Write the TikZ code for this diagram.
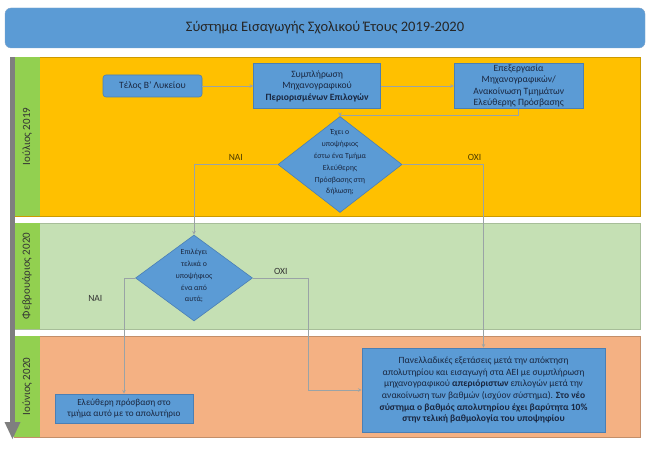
\documentclass[tikz,border=0pt]{standalone}
\usepackage{fontspec}
\setmainfont{Carlito}
\usepackage{tikz}
\usetikzlibrary{positioning, shapes.geometric}

\definecolor{boxblue}{HTML}{5B9BD5}
\definecolor{boxline}{HTML}{4A7FB5}
\definecolor{boxtext}{HTML}{1A2740}
\definecolor{laneyellow}{HTML}{FFC000}
\definecolor{lanegreen}{HTML}{C5E0B4}
\definecolor{laneorange}{HTML}{F4B183}
\definecolor{stripgreen}{HTML}{92D050}
\definecolor{timegray}{HTML}{7F7F7F}
\definecolor{linegray}{HTML}{9AA3A6}
\definecolor{answertext}{HTML}{4D3B00}

\begin{document}
\begin{tikzpicture}[x=1pt, y=-1pt, >=stealth,
  main box/.style={draw=boxline, line width=0.6pt, fill=boxblue, text=boxtext,
    align=center, inner sep=1pt, font=\fontsize{9.6}{11.5}\selectfont},
  decision/.style={diamond, draw=boxline, line width=0.6pt, fill=boxblue,
    text=boxtext, inner sep=0pt, font=\fontsize{7.8}{11.8}\selectfont},
  flow/.style={->, draw=linegray, line width=0.7pt},
  answer/.style={font=\fontsize{9.5}{11}\selectfont, text=answertext},
  lane name/.style={rotate=90, font=\fontsize{11}{13}\selectfont, text=black!80}]

\fill[white] (0,0) rectangle (660,462);
\useasboundingbox (0,0) rectangle (660,462);

% title
\node[draw=boxline!70, fill=boxblue, rounded corners=6pt, minimum width=640pt,
  minimum height=40pt, font=\fontsize{14.5}{17}\selectfont, text=black!85] (title)
  at (325,28) {Σύστημα Εισαγωγής Σχολικού Έτους 2019-2020};

% lanes
\filldraw[fill=laneyellow, draw=laneyellow!80!black, line width=0.6pt] (14,57) rectangle (640,216);
\filldraw[fill=lanegreen, draw=lanegreen!85!black, line width=0.6pt] (14,223) rectangle (640,329);
\filldraw[fill=laneorange, draw=laneorange!80!black, line width=0.6pt] (14,336) rectangle (640,437);
\fill[stripgreen] (14,57) rectangle (40,216);
\fill[stripgreen] (14,223) rectangle (40,329);
\fill[stripgreen] (14,336) rectangle (40,437);

% time arrow
\fill[timegray] (10,57) rectangle (15,423);
\fill[timegray] (4.5,422) -- (20.5,422) -- (12.5,439) -- cycle;

\node[lane name] (jul19) at (27,136.5) {Ιούλιος 2019};
\node[lane name] (feb20) at (27,276) {Φεβρουάριος 2020};
\node[lane name] (jun20) at (27,386.5) {Ιούνιος 2020};

% steps
\node[main box, rounded corners=3pt, minimum width=99pt, minimum height=22pt]
  (end) at (152.5,86) {Τέλος Β' Λυκείου};
\node[main box, minimum width=127pt, minimum height=45pt, right=51pt of end]
  (fill) {Συμπλήρωση\\Μηχανογραφικού\\\textbf{Περιορισμένων Επιλογών}};
\node[main box, minimum width=129pt, minimum height=45pt, right=73pt of fill]
  (proc) {Επεξεργασία\\Μηχανογραφικών/\\Ανακοίνωση Τμημάτων\\Ελεύθερης Πρόσβασης};
\node[decision, minimum width=124pt, minimum height=96pt] (has) at (340,164.5)
  {\smash{\parbox{90pt}{\centering Έχει ο\\υποψήφιος\\έστω ένα Τμήμα\\Ελεύθερης\\Πρόσβασης στη\\δήλωση;}}};
\node[decision, minimum width=117pt, minimum height=86pt] (pick) at (194,278)
  {\smash{\parbox{70pt}{\centering Επιλέγει\\τελικά ο\\υποψήφιος\\ένα από\\αυτά;}}};
\node[main box, minimum width=138pt, minimum height=29pt,
  font=\fontsize{9.2}{11}\selectfont] (free) at (124,408.5)
  {Ελεύθερη πρόσβαση στο\\τμήμα αυτό με το απολυτήριο};
\node[main box, minimum width=243pt, minimum height=84pt,
  font=\fontsize{9.5}{11.7}\selectfont] (exam) at (483.5,390)
  {Πανελλαδικές εξετάσεις μετά την απόκτηση\\
   απολυτηρίου και εισαγωγή στα ΑΕΙ με συμπλήρωση\\
   μηχανογραφικού \textbf{απεριόριστων} επιλογών μετά την\\
   ανακοίνωση των βαθμών (ισχύον σύστημα). \textbf{Στο νέο}\\
   \textbf{σύστημα ο βαθμός απολυτηρίου έχει βαρύτητα 10\%}\\
   \textbf{στην τελική βαθμολογία του υποψηφίου}};

% connectors
\draw[flow] (end) -- (fill);
\draw[flow] (fill) -- (proc);
\draw[flow] (proc.south) -- ++(0,7) -| (has.north);
\draw[flow] (has.west) -| node[pos=0.25, above, answer] {ΝΑΙ} (pick.north);
\draw[flow] (has.east) -| node[pos=0.445, above, answer] {ΟΧΙ} (exam.north);
\draw[flow] (pick.west) -| node[pos=0.59, left=18pt, answer, text=black!80] {ΝΑΙ} (free.north);
\draw[flow] (pick.east) -- ++(56,0) node[midway, above, answer, text=black!80] {ΟΧΙ} |- (exam.west);

\end{tikzpicture}
\end{document}
